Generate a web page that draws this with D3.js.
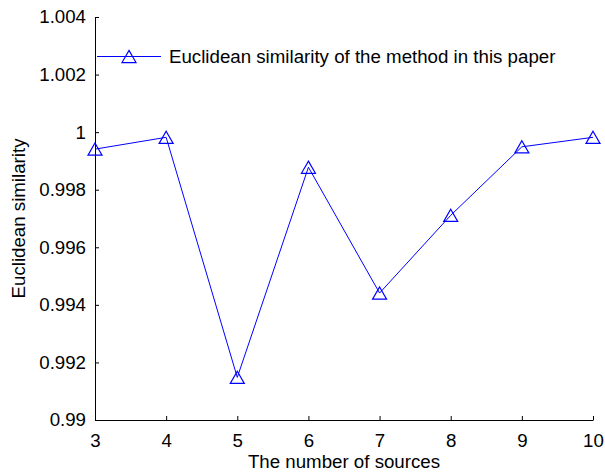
<!DOCTYPE html>
<html lang="en">
<head>
    <meta charset="utf-8">
    <title>Euclidean similarity</title>
    <script src="https://d3js.org/d3.v7.min.js"></script>
    <style>
        body { margin: 0; background: #fff; }
        svg text { font-family: "Liberation Sans", Arial, sans-serif; fill: #000; }
    </style>
</head>
<body>
    <div id="chart"></div>
    <script>
        // data
        const sources = [3, 4, 5, 6, 7, 8, 9, 10];
        const similarity = [0.99941, 0.99982, 0.99148, 0.99878, 0.99441, 0.99711, 0.99949, 0.99982];
        const yTicks = [0.99, 0.992, 0.994, 0.996, 0.998, 1, 1.002, 1.004];
        const legendLabel = "Euclidean similarity of the method in this paper";

        const width = 605, height = 475;
        const margin = {left: 95, right: 12, top: 17, bottom: 55};
        const blue = "#0000ff";
        const fs = 18.7;

        const svg = d3.select("#chart").append("svg")
            .attr("width", width)
            .attr("height", height);

        const x = d3.scaleLinear()
            .domain([3, 10])
            .range([margin.left, width - margin.right]);
        const y = d3.scaleLinear()
            .domain([0.99, 1.004])
            .range([height - margin.bottom, margin.top]);

        // axes, ticks pointing inward
        const xAxis = svg.append("g")
            .attr("transform", `translate(0,${y(0.99)})`)
            .call(d3.axisBottom(x).tickValues(sources).tickFormat(d3.format("d"))
                .tickSizeInner(-4).tickSizeOuter(0).tickPadding(9));
        const yAxis = svg.append("g")
            .attr("transform", `translate(${x(3)},0)`)
            .call(d3.axisLeft(y).tickValues(yTicks).tickSizeInner(-4).tickSizeOuter(0).tickPadding(9)
                .tickFormat(d => String(+d.toFixed(3))));

        [xAxis, yAxis].forEach(g => {
            g.select(".domain").attr("stroke", "#000").attr("stroke-width", 1);
            g.selectAll(".tick line").attr("stroke", "#000");
            g.selectAll("text").attr("font-size", fs).attr("fill", "#000")
                .style("font-family", "Liberation Sans, Arial, sans-serif");
        });
        xAxis.selectAll("text").attr("dy", "0.95em");

        // axis labels
        svg.append("text")
            .attr("x", (x(3) + x(10)) / 2)
            .attr("y", 468)
            .attr("text-anchor", "middle")
            .attr("font-size", fs)
            .text("The number of sources");
        svg.append("text")
            .attr("transform", `translate(25,${(y(0.99) + y(1.004)) / 2}) rotate(-90)`)
            .attr("text-anchor", "middle")
            .attr("font-size", fs)
            .text("Euclidean similarity");

        // triangle marker (d3 centres on the centroid, shift so the box is centred)
        const tri = d3.symbol().type(d3.symbolTriangle).size(85);
        const triShift = 2;

        const line = d3.line()
            .x((d, i) => x(sources[i]))
            .y(d => y(d));

        svg.append("path")
            .datum(similarity)
            .attr("d", line)
            .attr("fill", "none")
            .attr("stroke", blue)
            .attr("stroke-width", 1);

        svg.selectAll(".marker")
            .data(similarity)
            .enter()
            .append("path")
                .attr("class", "marker")
                .attr("transform", (d, i) => `translate(${x(sources[i])},${y(d) + triShift})`)
                .attr("d", tri)
                .attr("fill", "none")
                .attr("stroke", blue)
                .attr("stroke-width", 1.2);

        // legend
        const legY = 56.5;
        const legend = svg.append("g");
        legend.append("line")
            .attr("x1", 97).attr("x2", 161)
            .attr("y1", legY).attr("y2", legY)
            .attr("stroke", blue)
            .attr("stroke-width", 1);
        legend.append("path")
            .attr("transform", `translate(129,${legY + triShift})`)
            .attr("d", tri)
            .attr("fill", "none")
            .attr("stroke", blue)
            .attr("stroke-width", 1.2);
        legend.append("text")
            .attr("x", 169)
            .attr("y", legY + 6.5)
            .attr("font-size", fs)
            .text(legendLabel);
    </script>
</body>
</html>
